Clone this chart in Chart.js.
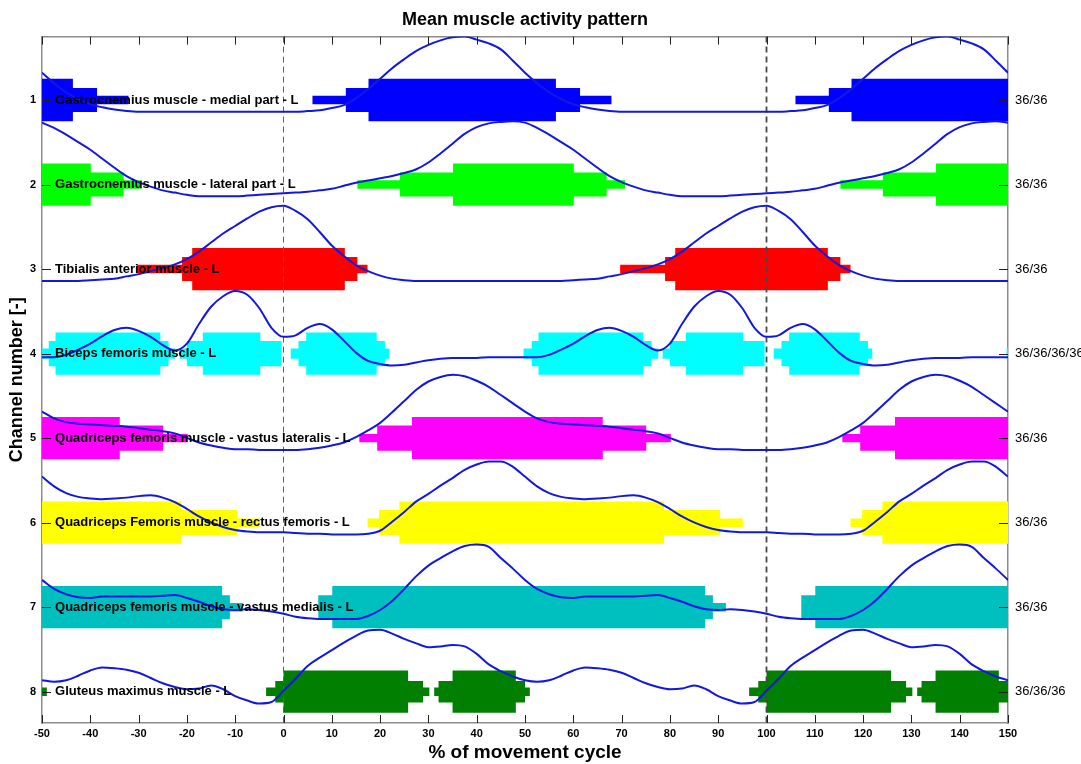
<!DOCTYPE html>
<html>
<head>
<meta charset="utf-8">
<title>Mean muscle activity pattern</title>
<script src="https://cdn.jsdelivr.net/npm/chart.js@4/dist/chart.umd.min.js"></script>
<style>
  html, body { margin: 0; padding: 0; background: #ffffff; }
  #wrap { width: 1081px; height: 764px; }
</style>
</head>
<body>
<div id="wrap"><canvas id="c" width="1081" height="764"></canvas></div>
<script>
// ---- data -----------------------------------------------------------------
const channels = [1, 2, 3, 4, 5, 6, 7, 8];

const muscleNames = [
  'Gastrocnemius muscle - medial part - L',
  'Gastrocnemius muscle - lateral part - L',
  'Tibialis anterior muscle - L',
  'Biceps femoris muscle - L',
  'Quadriceps femoris muscle - vastus lateralis - L',
  'Quadriceps Femoris muscle - rectus femoris - L',
  'Quadriceps femoris muscle - vastus medialis - L',
  'Gluteus maximus muscle - L'
];

const trialCounts = ['36/36', '36/36', '36/36', '36/36/36/36', '36/36', '36/36', '36/36', '36/36/36'];

const xTickValues = [-50, -40, -30, -20, -10, 0, 10, 20, 30, 40, 50, 60, 70, 80, 90, 100, 110, 120, 130, 140, 150];

// cycle boundaries (heel strike) shown as dashed lines
const cycleMarks = [0, 100];

// sample positions within one movement cycle (% of cycle)
const cyclePct = [0, 2.5, 5, 7.5, 10, 12.5, 15, 17.5, 20, 22.5, 25, 27.5, 30, 32.5, 35, 37.5,
  40, 42.5, 45, 47.5, 50, 52.5, 55, 57.5, 60, 62.5, 65, 67.5, 70, 72.5, 75, 77.5,
  80, 82.5, 85, 87.5, 90, 92.5, 95, 97.5];

// normalised mean EMG envelope per channel (0 = rest, 1 = peak)
const env1 = [0, 0, 0.01, 0.02, 0.05, 0.09, 0.18, 0.30, 0.44, 0.58, 0.70, 0.81, 0.89, 0.95, 0.99, 1.0,
  0.96, 0.91, 0.83, 0.68, 0.52, 0.38, 0.26, 0.17, 0.10, 0.06, 0.03, 0.01, 0, 0, 0, 0, 0, 0, 0, 0, 0, 0, 0, 0];
const env2 = [0.04, 0.05, 0.06, 0.08, 0.10, 0.14, 0.18, 0.21, 0.24, 0.27, 0.31, 0.36, 0.45, 0.57, 0.70, 0.83,
  0.92, 0.97, 0.99, 1.0, 0.98, 0.91, 0.82, 0.72, 0.62, 0.50, 0.38, 0.27, 0.19, 0.13, 0.08, 0.05,
  0.02, 0, 0, 0, 0, 0.01, 0.02, 0.03];
const env3 = [1.0, 0.93, 0.82, 0.65, 0.47, 0.33, 0.21, 0.13, 0.07, 0.03, 0.01, 0, 0, 0, 0, 0,
  0, 0, 0, 0, 0, 0, 0, 0, 0.01, 0.02, 0.03, 0.06, 0.09, 0.13, 0.17, 0.22,
  0.29, 0.39, 0.51, 0.63, 0.73, 0.83, 0.92, 0.98];
const env4 = [0.38, 0.40, 0.50, 0.55, 0.48, 0.33, 0.17, 0.06, 0.02, 0.0, 0.01, 0.04, 0.07, 0.09, 0.10, 0.10,
  0.10, 0.11, 0.11, 0.11, 0.11, 0.11, 0.14, 0.21, 0.29, 0.39, 0.47, 0.50, 0.46, 0.38, 0.27, 0.20,
  0.29, 0.55, 0.78, 0.92, 0.99, 0.94, 0.76, 0.50];
const env5 = [0, 0, 0.01, 0.03, 0.06, 0.10, 0.17, 0.26, 0.36, 0.50, 0.65, 0.80, 0.91, 0.97, 1.0, 0.98,
  0.92, 0.84, 0.73, 0.62, 0.51, 0.42, 0.37, 0.35, 0.34, 0.33, 0.32, 0.31, 0.29, 0.27, 0.25, 0.22,
  0.16, 0.10, 0.06, 0.03, 0.01, 0.01, 0, 0];
const env6 = [0.03, 0.02, 0.01, 0.01, 0, 0, 0, 0.01, 0.05, 0.17, 0.30, 0.44, 0.54, 0.65, 0.75, 0.86,
  0.93, 0.97, 0.97, 0.90, 0.77, 0.64, 0.55, 0.50, 0.48, 0.47, 0.48, 0.49, 0.51, 0.52, 0.49, 0.43,
  0.34, 0.24, 0.16, 0.10, 0.06, 0.04, 0.03, 0.03];
const env7 = [0.07, 0.03, 0.01, 0, 0, 0, 0, 0.04, 0.12, 0.24, 0.40, 0.57, 0.71, 0.81, 0.90, 0.97,
  0.99, 0.96, 0.81, 0.67, 0.52, 0.40, 0.33, 0.29, 0.28, 0.30, 0.30, 0.30, 0.30, 0.30, 0.31, 0.32,
  0.28, 0.23, 0.17, 0.13, 0.12, 0.13, 0.12, 0.10];
const env8 = [0.17, 0.33, 0.50, 0.61, 0.71, 0.81, 0.90, 0.97, 0.98, 0.93, 0.86, 0.80, 0.75, 0.76, 0.78, 0.76,
  0.66, 0.52, 0.43, 0.36, 0.31, 0.29, 0.31, 0.37, 0.44, 0.48, 0.47, 0.45, 0.41, 0.34, 0.27, 0.22,
  0.19, 0.20, 0.24, 0.19, 0.10, 0.04, 0.0, 0.02];

// activation intervals per channel: [start %, end %, share of trials active]
const bursts1 = [[6.0, 12.9, 0.2], [12.9, 17.6, 0.57], [17.6, 56.4, 1], [56.4, 61.4, 0.57], [61.4, 67.9, 0.2]];
const bursts2 = [[15.3, 24.1, 0.2], [24.1, 35.1, 0.57], [35.1, 60.1, 1], [60.1, 66.9, 0.57], [66.9, 70.7, 0.2]];
const bursts3 = [[69.7, 79.0, 0.2], [79.0, 81.1, 0.57], [81.1, 112.7, 1], [112.7, 115.3, 0.57], [115.3, 117.4, 0.2]];
const bursts4 = [
  [1.5, 3.1, 0.24], [3.1, 4.7, 0.6], [4.7, 19.3, 1], [19.3, 21.0, 0.6], [21.0, 21.9, 0.24],
  [49.7, 51.4, 0.24], [51.4, 52.8, 0.6], [52.8, 74.5, 1], [74.5, 76.2, 0.6], [76.2, 77.6, 0.24],
  [78.5, 80.0, 0.24], [80.0, 83.3, 0.6], [83.3, 95.2, 1], [95.2, 99.6, 0.6]
];
const bursts5 = [[15.7, 19.4, 0.2], [19.4, 26.6, 0.6], [26.6, 66.1, 1], [66.1, 75.1, 0.6], [75.1, 80.2, 0.2]];
const bursts6 = [[17.4, 19.8, 0.2], [19.8, 24.0, 0.6], [24.0, 78.8, 1], [78.8, 90.4, 0.6], [90.4, 95.1, 0.2]];
const bursts7 = [[7.2, 10.1, 0.57], [10.1, 87.3, 1], [87.3, 88.9, 0.57], [88.9, 91.6, 0.2]];
const bursts8 = [
  [96.4, 98.3, 0.2], [98.3, 100.0, 0.51], [100.0, 125.8, 1], [125.8, 128.9, 0.51], [128.9, 130.2, 0.2],
  [31.2, 32.1, 0.2], [32.1, 35.0, 0.51], [35.0, 48.1, 1], [48.1, 50.0, 0.51], [50.0, 51.0, 0.2]
];

// ---- appearance -------------------------------------------------------------
const envelopes = [env1, env2, env3, env4, env5, env6, env7, env8];
const bursts = [bursts1, bursts2, bursts3, bursts4, bursts5, bursts6, bursts7, bursts8];
const burstColors = ['#0000ff', '#00ff00', '#ff0000', '#00ffff', '#ff00ff', '#ffff00', '#00bfbf', '#007f00'];
const CURVE_COLOR = '#1218e0';
const FONT = "'Liberation Sans', Arial, Helvetica, sans-serif";

const X_MIN = -50, X_MAX = 150;
const Y_MIN = 0.25, Y_MAX = 8.37;
const BAR_HALF = 0.25;     // half height of a fully active band, in channel units
const CURVE_BASE = 0.14;   // envelope zero line below the channel centre
const CURVE_SPAN = 0.89;   // envelope height for value 1

// repeat one cycle over the displayed -50 .. 150 % window
function tileCycle(values, ch) {
  const pts = [];
  for (let k = -1; k <= 1; k++) {
    cyclePct.forEach((p, i) => {
      const x = p + 100 * k;
      if (x >= X_MIN && x <= X_MAX) pts.push({ x, y: ch + CURVE_BASE - CURVE_SPAN * values[i] });
    });
  }
  return pts;
}

function tileBursts(list) {
  const out = [];
  for (let k = -2; k <= 2; k++) {
    for (const [a, b, l] of list) {
      const s = Math.max(a + 100 * k, X_MIN);
      const e = Math.min(b + 100 * k, X_MAX);
      if (e > s) out.push([s, e, l]);
    }
  }
  return out.sort((p, q) => p[0] - q[0]);
}

// stepped outline of the activation band (dir -1 = upper edge, +1 = lower edge)
function bandEdge(list, ch, dir) {
  const pts = [];
  let cursor = X_MIN;
  for (const [s, e, l] of tileBursts(list)) {
    if (s > cursor + 1e-6) pts.push({ x: cursor, y: ch });
    pts.push({ x: s, y: ch + dir * BAR_HALF * l });
    cursor = e;
  }
  if (cursor < X_MAX - 1e-6) pts.push({ x: cursor, y: ch });
  pts.push({ x: X_MAX, y: pts[pts.length - 1].y });
  return pts;
}

const datasets = [];
channels.forEach((ch, i) => {
  const common = {
    type: 'line', stepped: true, pointRadius: 0, borderWidth: 0,
    borderColor: 'rgba(0,0,0,0)', backgroundColor: burstColors[i], order: 2
  };
  datasets.push(Object.assign({ data: bandEdge(bursts[i], ch, -1), fill: '+1' }, common));
  datasets.push(Object.assign({ data: bandEdge(bursts[i], ch, 1), fill: false }, common));
});
cycleMarks.forEach((m, i) => {
  datasets.push({
    type: 'line', data: [{ x: m, y: Y_MIN }, { x: m, y: Y_MAX }],
    borderColor: i === 0 ? '#606060' : '#484848', borderWidth: i === 0 ? 1 : 1.8,
    borderDash: [6, 4], pointRadius: 0, fill: false, order: 1
  });
});
channels.forEach((ch, i) => {
  datasets.push({
    type: 'line', data: tileCycle(envelopes[i], ch),
    borderColor: CURVE_COLOR, borderWidth: 2, pointRadius: 0, fill: false,
    cubicInterpolationMode: 'monotone', order: 0
  });
});

// inward tick marks on all four sides
const innerTicks = {
  id: 'innerTicks',
  afterDatasetsDraw(chart) {
    const { ctx, chartArea: a, scales } = chart;
    ctx.save();
    ctx.strokeStyle = '#202020';
    ctx.lineWidth = 1;
    ctx.beginPath();
    for (const t of scales.x.ticks) {
      const px = Math.round(scales.x.getPixelForValue(t.value)) + 0.5;
      ctx.moveTo(px, a.bottom); ctx.lineTo(px, a.bottom - 8);
      ctx.moveTo(px, a.top); ctx.lineTo(px, a.top + 8);
    }
    for (const t of scales.y.ticks) {
      const py = Math.round(scales.y.getPixelForValue(t.value)) + 0.5;
      ctx.moveTo(a.left, py); ctx.lineTo(a.left + 9, py);
      ctx.moveTo(a.right, py); ctx.lineTo(a.right - 9, py);
    }
    ctx.stroke();
    ctx.restore();
  }
};

// muscle names written inside the plot next to each channel
const muscleLabels = {
  id: 'muscleLabels',
  afterDatasetsDraw(chart) {
    const { ctx, scales } = chart;
    ctx.save();
    ctx.font = 'bold 13px ' + FONT;
    ctx.fillStyle = '#000000';
    ctx.textAlign = 'left';
    ctx.textBaseline = 'middle';
    const x = scales.x.getPixelForValue(-47.3);
    channels.forEach((ch, i) => {
      ctx.fillText(muscleNames[i], x, scales.y.getPixelForValue(ch));
    });
    ctx.restore();
  }
};

const borderStyle = { display: true, color: '#8c8c8c', width: 1.5 };
const noGrid = { display: false, drawTicks: false, tickLength: 0 };

new Chart(document.getElementById('c'), {
  type: 'line',
  data: { datasets },
  options: {
    responsive: false,
    animation: false,
    devicePixelRatio: 1,
    events: [],
    layout: { padding: 0 },
    plugins: {
      legend: { display: false },
      tooltip: { enabled: false },
      title: {
        display: true, text: 'Mean muscle activity pattern', color: '#000000',
        fullSize: false,
        font: { family: FONT, size: 18, weight: 'bold' },
        padding: { top: 9, bottom: 6 }
      }
    },
    scales: {
      x: {
        type: 'linear', position: 'bottom', min: X_MIN, max: X_MAX,
        afterBuildTicks: s => { s.ticks = xTickValues.map(v => ({ value: v })); },
        afterFit: s => { s.height = 41; },
        grid: noGrid,
        border: borderStyle,
        ticks: { color: '#000000', padding: 4, maxRotation: 0, font: { family: FONT, size: 11, weight: 'bold' } },
        title: {
          display: true, text: '% of movement cycle', color: '#000000',
          font: { family: FONT, size: 19, weight: 'bold' }, padding: { top: 3, bottom: 0 }
        }
      },
      x2: {
        type: 'linear', position: 'top', min: X_MIN, max: X_MAX,
        afterFit: s => { s.height = 0; },
        grid: noGrid,
        border: borderStyle,
        ticks: { display: false }
      },
      y: {
        type: 'linear', position: 'left', min: Y_MIN, max: Y_MAX, reverse: true,
        afterBuildTicks: s => { s.ticks = channels.map(v => ({ value: v })); },
        afterFit: s => { s.width = 42; },
        grid: noGrid,
        border: borderStyle,
        ticks: { color: '#000000', padding: 6, font: { family: FONT, size: 11, weight: 'bold' },
          callback: v => String(v) },
        title: {
          display: true, text: 'Channel number [-]', color: '#000000',
          font: { family: FONT, size: 18, weight: 'bold' }, padding: { top: 6, bottom: 0 }
        }
      },
      y2: {
        type: 'linear', position: 'right', min: Y_MIN, max: Y_MAX, reverse: true,
        afterBuildTicks: s => { s.ticks = channels.map(v => ({ value: v })); },
        afterFit: s => { s.width = 73; },
        grid: noGrid,
        border: borderStyle,
        ticks: { color: '#000000', padding: 7, font: { family: FONT, size: 13 },
          callback: (v, i) => trialCounts[i] }
      }
    }
  },
  plugins: [innerTicks, muscleLabels]
});
</script>
</body>
</html>
